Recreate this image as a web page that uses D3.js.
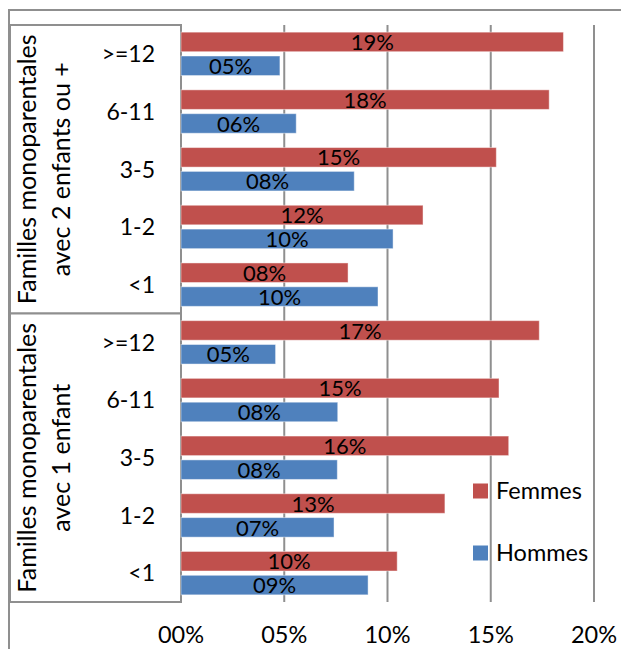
<!DOCTYPE html>
<html>
<head>
<meta charset="utf-8">
<script src="https://cdn.jsdelivr.net/npm/d3@7"></script>
<style>
  html, body { margin: 0; padding: 0; background: #fff; }
  svg { display: block; }
  text { font-family: Lato, "Open Sans", sans-serif; fill: #000; }
</style>
</head>
<body>
<svg id="chart" width="621" height="649"></svg>
<script>
// Age of the youngest child, repeated inside each family type
const ageGroups = [">=12", "6-11", "3-5", "1-2", "<1"];

// Family types (each drawn as a two-line rotated label)
const familyTypes = [
  ["Familles monoparentales", "avec 2 enfants ou +"],
  ["Familles monoparentales", "avec 1 enfant"]
];

const seriesNames = ["Femmes", "Hommes"];

// Shares by family type then age group, top to bottom
const femmes = [0.1852, 0.1783, 0.1527, 0.1172, 0.0809,
                0.1735, 0.1540, 0.1587, 0.1278, 0.1047];
const hommes = [0.0479, 0.0558, 0.0839, 0.1027, 0.0954,
                0.0458, 0.0759, 0.0757, 0.0741, 0.0906];

const xTicks = [0, 0.05, 0.10, 0.15, 0.20];

const colors = { Femmes: "#C0504D", Hommes: "#4F81BD" };
const gridColor = "#8f8f8f";
const fmt = d3.format("03.0%");

// Build rows
const rows = [];
familyTypes.forEach((ft, gi) => {
  ageGroups.forEach((age, ai) => {
    const i = gi * ageGroups.length + ai;
    rows.push({ key: gi + "|" + age, group: gi, age, Femmes: femmes[i], Hommes: hommes[i] });
  });
});

const svg = d3.select("#chart");

const plot = { left: 181, right: 594, top: 25, bottom: 602 };

const x = d3.scaleLinear().domain([0, 0.20]).range([plot.left, plot.right]);
const y0 = d3.scaleBand().domain(rows.map(r => r.key)).range([plot.top, plot.bottom]).padding(0);
const y1 = d3.scaleBand().domain(seriesNames).range([0, y0.bandwidth()])
  .paddingInner(0.18).paddingOuter(0.3);

// Outer frame (top and left edges)
svg.append("path")
  .attr("d", `M9,649 L9,10 L621,10`)
  .attr("fill", "none").attr("stroke", gridColor).attr("stroke-width", 2);

// Vertical gridlines
svg.append("g").selectAll("line")
  .data(xTicks.filter(t => t > 0))
  .join("line")
  .attr("x1", d => x(d)).attr("x2", d => x(d))
  .attr("y1", plot.top).attr("y2", plot.bottom)
  .attr("stroke", gridColor).attr("stroke-width", 2);

// Family type boxes on the left
const groupBand = d3.scaleBand().domain(d3.range(familyTypes.length))
  .range([plot.top, plot.bottom]).padding(0);

svg.append("g").selectAll("rect")
  .data(familyTypes)
  .join("rect")
  .attr("x", 10).attr("y", (d, i) => groupBand(i))
  .attr("width", plot.left - 10).attr("height", groupBand.bandwidth())
  .attr("fill", "#fff").attr("stroke", gridColor).attr("stroke-width", 2);

const lineX = [36, 69.5];
familyTypes.forEach((lines, gi) => {
  const cy = groupBand(gi) + groupBand.bandwidth() / 2;
  lines.forEach((ln, li) => {
    svg.append("text")
      .attr("transform", `translate(${lineX[li]},${cy}) rotate(-90)`)
      .attr("text-anchor", "middle")
      .style("font-size", "25px")
      .text(ln);
  });
});

// Age group labels
svg.append("g").selectAll("text")
  .data(rows)
  .join("text")
  .attr("x", 155)
  .attr("y", d => y0(d.key) + y0.bandwidth() / 2)
  .attr("dy", "0.36em")
  .attr("text-anchor", "end")
  .style("font-size", "23px")
  .text(d => d.age);

// Bars
const barData = rows.flatMap(r => seriesNames.map(s => ({ key: r.key, series: s, value: r[s] })));

svg.append("g").selectAll("rect")
  .data(barData)
  .join("rect")
  .attr("x", x(0))
  .attr("y", d => y0(d.key) + y1(d.series))
  .attr("width", d => x(d.value) - x(0))
  .attr("height", y1.bandwidth())
  .attr("fill", d => colors[d.series])
  .attr("stroke", "rgba(255,255,255,0.45)")
  .attr("stroke-width", 1);

// Value labels centred on each bar
svg.append("g").selectAll("text")
  .data(barData)
  .join("text")
  .attr("x", d => (x(0) + x(d.value)) / 2)
  .attr("y", d => y0(d.key) + y1(d.series) + y1.bandwidth() / 2)
  .attr("dy", "0.37em")
  .attr("text-anchor", "middle")
  .style("font-size", "22px")
  .text(d => fmt(d.value));

// Value axis labels
svg.append("g").selectAll("text")
  .data(xTicks)
  .join("text")
  .attr("x", d => x(d))
  .attr("y", 643)
  .attr("text-anchor", "middle")
  .style("font-size", "23.5px")
  .text(d => fmt(d));

// Legend
const legend = svg.append("g").selectAll("g")
  .data(seriesNames)
  .join("g")
  .attr("transform", (d, i) => `translate(473,${491 + i * 62})`);
legend.append("rect")
  .attr("x", 0).attr("y", -7.5).attr("width", 15).attr("height", 15)
  .attr("fill", d => colors[d]);
legend.append("text")
  .attr("x", 23).attr("y", 0).attr("dy", "0.36em")
  .style("font-size", "23.5px")
  .text(d => d);
</script>
</body>
</html>
